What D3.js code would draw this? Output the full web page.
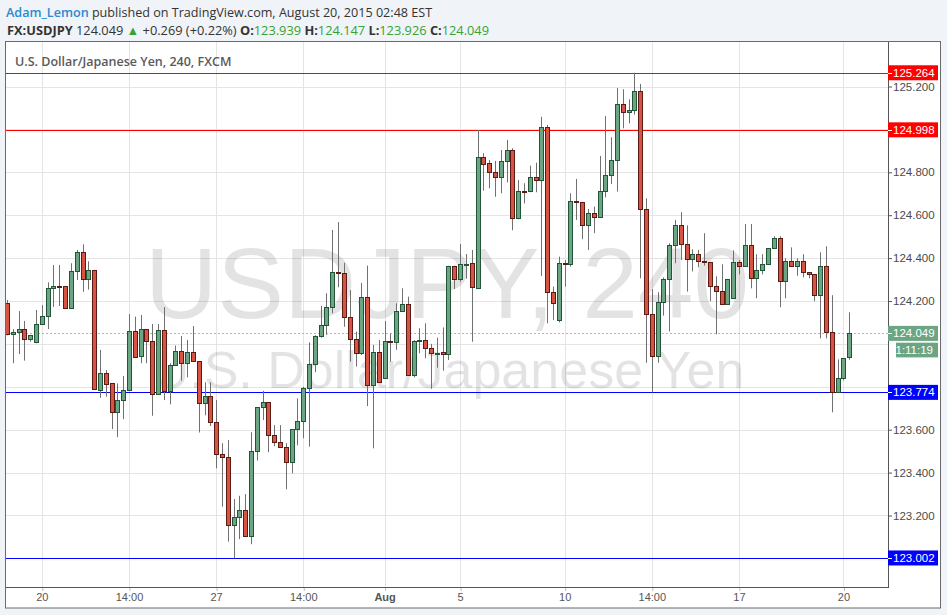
<!DOCTYPE html>
<html><head><meta charset="utf-8">
<script src="https://cdn.jsdelivr.net/npm/d3@7"></script>
<style>html,body{margin:0;padding:0;background:#f0f3f7;} svg{display:block}</style>
</head><body>
<svg id="c" width="947" height="615"></svg>
<script>
// ---- DATA (4h candles, USD/JPY) ----
const openP = [124.189,124.045,124.054,124.068,124.021,124.007,124.091,124.129,124.259,124.269,
124.269,124.166,124.338,124.427,124.301,124.343,123.788,123.866,123.816,123.681,
123.737,123.784,124.059,123.940,124.068,124.012,123.765,124.063,123.779,123.900,
123.966,123.910,123.961,123.919,123.723,123.756,123.635,123.485,123.471,123.154,
123.192,123.224,123.103,123.499,123.704,123.728,123.574,123.541,123.518,123.448,
123.602,123.639,123.793,123.905,124.035,124.087,124.173,124.334,124.329,124.124,
124.021,123.956,124.217,123.807,123.961,123.840,124.013,124.007,124.152,124.185,
123.854,124.015,124.017,123.980,123.956,123.961,123.952,124.362,124.301,124.372,
124.376,124.264,124.873,124.842,124.800,124.777,124.851,124.903,124.586,124.712,
124.711,124.777,124.763,125.010,124.241,124.110,124.376,124.371,124.665,124.660,
124.551,124.609,124.590,124.711,124.786,124.857,125.117,125.080,125.089,125.178,
124.628,124.138,123.942,124.194,124.301,124.460,124.553,124.464,124.394,124.418,
124.385,124.380,124.269,124.245,124.185,124.213,124.380,124.362,124.460,124.306,
124.343,124.371,124.446,124.492,124.292,124.385,124.362,124.385,124.334,124.324,
124.227,124.362,124.054,123.774,123.840,123.939];
const highP = [124.205,124.069,124.153,124.107,124.042,124.158,124.181,124.287,124.368,124.368,
124.270,124.376,124.438,124.464,124.385,124.345,123.972,123.878,123.818,123.816,
123.850,124.139,124.127,124.135,124.069,124.093,124.093,124.171,123.910,123.992,
124.037,124.018,124.083,123.920,123.821,123.821,123.738,123.537,123.552,123.277,
123.292,123.300,123.588,123.704,123.781,123.728,123.621,123.621,123.537,123.602,
123.746,123.800,124.007,124.040,124.177,124.236,124.531,124.568,124.378,124.251,
124.057,124.284,124.365,123.995,124.018,124.107,124.049,124.189,124.259,124.220,
124.018,124.073,124.096,124.000,124.029,124.077,124.364,124.364,124.466,124.419,
124.438,124.997,124.889,124.857,124.853,124.904,124.951,124.912,124.764,124.749,
124.831,124.845,125.059,125.021,124.267,124.407,124.391,124.702,124.769,124.662,
124.629,124.640,124.876,125.062,124.963,125.193,125.187,125.140,125.264,125.212,
124.679,124.255,124.241,124.310,124.469,124.578,124.614,124.553,124.441,124.438,
124.516,124.380,124.315,124.371,124.303,124.436,124.390,124.559,124.559,124.418,
124.418,124.446,124.502,124.502,124.399,124.450,124.399,124.418,124.334,124.324,
124.427,124.455,124.227,123.928,123.933,124.147];
const lowP = [124.040,123.910,123.953,123.922,124.010,124.003,124.091,124.069,124.172,124.177,
124.166,124.166,124.298,124.243,124.253,123.786,123.749,123.754,123.603,123.565,
123.649,123.784,123.940,123.910,123.910,123.665,123.765,123.738,123.718,123.900,
123.829,123.844,123.919,123.587,123.667,123.617,123.420,123.241,123.078,123.000,
123.090,123.103,123.066,123.456,123.645,123.495,123.523,123.518,123.322,123.397,
123.527,123.560,123.521,123.868,124.029,124.042,124.143,124.264,124.080,123.917,
123.894,123.948,123.710,123.513,123.821,123.840,123.917,123.972,124.152,123.854,
123.844,123.956,123.933,123.791,123.889,123.875,123.925,124.256,124.290,124.304,
124.010,124.255,124.714,124.725,124.686,124.702,124.753,124.530,124.581,124.655,
124.707,124.707,124.317,124.096,124.111,124.100,124.267,124.360,124.578,124.488,
124.438,124.516,124.590,124.683,124.745,124.710,125.005,125.028,125.069,124.306,
123.912,123.774,123.912,124.132,124.058,124.376,124.391,124.244,124.338,124.357,
124.365,124.199,124.045,124.185,124.185,124.213,124.324,124.362,124.259,124.213,
124.324,124.371,124.446,124.171,124.213,124.362,124.318,124.310,124.306,124.199,
124.026,124.026,123.681,123.774,123.830,123.926];
const closeP = [124.046,124.054,124.068,124.021,124.040,124.091,124.129,124.259,124.269,124.268,
124.166,124.338,124.427,124.301,124.343,123.788,123.866,123.816,123.681,123.737,
123.784,124.059,123.940,124.068,124.012,123.765,124.063,123.779,123.900,123.966,
123.910,123.961,123.919,123.723,123.756,123.635,123.485,123.471,123.154,123.192,
123.224,123.103,123.499,123.704,123.728,123.574,123.541,123.518,123.448,123.602,
123.639,123.793,123.905,124.035,124.087,124.173,124.335,124.331,124.124,124.021,
123.956,124.217,123.807,123.961,123.821,124.012,124.010,124.152,124.185,123.854,
124.012,124.018,123.980,123.956,123.959,123.950,124.362,124.301,124.371,124.374,
124.264,124.873,124.842,124.800,124.777,124.851,124.903,124.586,124.711,124.709,
124.777,124.763,125.010,124.241,124.189,124.376,124.372,124.665,124.662,124.554,
124.609,124.590,124.711,124.786,124.857,125.117,125.080,125.089,125.178,124.628,
124.138,123.942,124.194,124.301,124.460,124.553,124.464,124.394,124.418,124.385,
124.380,124.269,124.245,124.185,124.301,124.380,124.362,124.460,124.306,124.343,
124.371,124.446,124.492,124.292,124.385,124.362,124.385,124.334,124.324,124.227,
124.362,124.054,123.774,123.840,123.933,124.049];

const xTickIdx = [6,21,36,51,65,78,96,111,126,144];
const xTickLabels = ["20","14:00","27","14:00","Aug","5","10","14:00","17","20"];
const yTicks = [123.0,123.2,123.4,123.6,123.8,124.0,124.2,124.4,124.6,124.8,125.0,125.2];
const yTickLabelValues = [123.2,123.4,123.6,124.2,124.4,124.6,124.8,125.2];
const redLevels = [125.264,124.998];
const blueLevels = [123.774,123.002];
const lastPrice = 124.049;
const countdown = "1:11:19";

// ---- DRAW ----
const svg = d3.select("#c");
const P = {l:6, r:888, t:42, b:587};
const x = d3.scaleLinear().domain([0, openP.length-1]).range([7, 849.3]);
const y = d3.scaleLinear().domain([123.0,125.2]).range([558.4,86.5]);
const crisp = v => Math.round(v)+0.5;
const AX = "'Liberation Sans', Arial, sans-serif";
const HF = "'Open Sans', 'Noto Sans', sans-serif";

svg.append("rect").attr("width",947).attr("height",615).attr("fill","#f0f3f7");
svg.append("rect").attr("x",5.5).attr("y",41.5).attr("width",935).attr("height",566.5)
  .attr("fill","#fff").attr("stroke","#6a6a6a");

// header
const h1 = svg.append("text").attr("x",6).attr("y",17).attr("font-family",HF).attr("font-size",12.6).attr("fill","#333");
h1.append("tspan").attr("fill","#2a8ad2").attr("font-weight",600).text("Adam_Lemon");
h1.append("tspan").text(" published on TradingView.com, August 20, 2015 02:48 EST");
const h2 = svg.append("text").attr("x",7).attr("y",34.5).attr("font-family",HF).attr("font-size",12.8).attr("fill","#333");
const G = "#36a336";
h2.append("tspan").attr("font-weight",700).text("FX:USDJPY");
h2.append("tspan").text(" 124.049 ");
h2.append("tspan").attr("fill",G).text("▲");
h2.append("tspan").text(" +0.269 (+0.22%) ");
[["O:","123.939"],["H:","124.147"],["L:","123.926"],["C:","124.049"]].forEach((d,i)=>{
  h2.append("tspan").attr("font-weight",700).text((i?" ":"")+d[0]);
  h2.append("tspan").attr("fill",G).text(d[1]);
});

const defs = svg.append("defs");
defs.append("clipPath").attr("id","pc").append("rect")
  .attr("x",P.l).attr("y",P.t).attr("width",P.r-P.l).attr("height",P.b-P.t);
const g = svg.append("g").attr("clip-path","url(#pc)");

// grid
g.selectAll("line.hg").data(yTicks).join("line").attr("class","hg")
  .attr("x1",P.l).attr("x2",P.r).attr("y1",d=>crisp(y(d))).attr("y2",d=>crisp(y(d)))
  .attr("stroke","#e4e4e4");
g.selectAll("line.vg").data(xTickIdx).join("line").attr("class","vg")
  .attr("x1",d=>crisp(x(d))).attr("x2",d=>crisp(x(d))).attr("y1",P.t).attr("y2",P.b)
  .attr("stroke","#e4e4e4");

// watermark
g.append("text").attr("x",447).attr("y",318).attr("text-anchor","middle")
  .attr("font-family",AX).attr("font-size",100).attr("fill","rgba(0,0,0,0.11)").text("USDJPY, 240");
g.append("text").attr("x",448).attr("y",388).attr("text-anchor","middle")
  .attr("font-family",AX).attr("font-size",52).attr("fill","rgba(0,0,0,0.11)").text("U.S. Dollar/Japanese Yen");

// title
svg.append("text").attr("x",15).attr("y",65.5).attr("font-family",HF).attr("font-size",12.5)
  .attr("font-weight",600).attr("fill","#5a5a5a").text("U.S. Dollar/Japanese Yen, 240, FXCM");

// level lines
const levels = redLevels.map(v=>({v,c:"#ff0000"})).concat(blueLevels.map(v=>({v,c:"#0000ff"})));
g.selectAll("line.lv").data(levels).join("line").attr("class","lv")
  .attr("x1",P.l).attr("x2",P.r).attr("y1",d=>crisp(y(d.v))).attr("y2",d=>crisp(y(d.v)))
  .attr("stroke",d=>d.c);
g.append("line").attr("x1",P.l).attr("x2",P.r).attr("y1",crisp(y(lastPrice))).attr("y2",crisp(y(lastPrice)))
  .attr("stroke","#a9bcb2").attr("stroke-dasharray","2,2");

// candles
const idx = d3.range(openP.length);
const up = i => closeP[i] >= openP[i];
g.selectAll("line.wk").data(idx).join("line").attr("class","wk")
  .attr("x1",i=>Math.round(x(i))+0.5).attr("x2",i=>Math.round(x(i))+0.5)
  .attr("y1",i=>y(highP[i])).attr("y2",i=>y(lowP[i])).attr("stroke","#707070");
g.selectAll("rect.bd").data(idx).join("rect").attr("class","bd")
  .attr("x",i=>Math.round(x(i))-1.5).attr("width",4)
  .attr("y",i=>Math.round(y(Math.max(openP[i],closeP[i])))+0.5)
  .attr("height",i=>Math.max(1,Math.round(Math.abs(y(openP[i])-y(closeP[i])))))
  .attr("fill",i=>up(i)?"#6ba583":"#d75442")
  .attr("stroke",i=>up(i)?"#225437":"#5b1a13");

// axes (labels hidden where the coloured price tags cover them)
const ya = d3.axisRight(y).tickValues(yTickLabelValues).tickSize(4).tickPadding(1)
  .tickFormat(d3.format(".3f"));
const yg = svg.append("g").attr("transform",`translate(${P.r},0)`).call(ya);
yg.select(".domain").remove();
yg.selectAll("line").attr("stroke","#555");
yg.selectAll("text").attr("font-family",AX).attr("font-size",11.5).attr("fill","#4a4a4a");

const xa = d3.axisBottom(x).tickValues(xTickIdx).tickFormat((d,i)=>xTickLabels[i]).tickSize(4).tickPadding(2);
const xg = svg.append("g").attr("transform",`translate(0,${P.b})`).call(xa);
xg.select(".domain").remove();
xg.selectAll("line").attr("stroke","#bbb").attr("transform","translate(0.5,0)");
xg.selectAll("text").attr("font-family",AX).attr("font-size",11).attr("fill","#555")
  .attr("font-weight",(d,i)=>xTickLabels[i]==="Aug"?700:400);

// borders
svg.append("line").attr("x1",P.r+0.5).attr("x2",P.r+0.5).attr("y1",P.t).attr("y2",P.b+1).attr("stroke","#555");
svg.append("line").attr("x1",P.l).attr("x2",P.r+1).attr("y1",P.b+0.5).attr("y2",P.b+0.5).attr("stroke","#555");

// price labels
function priceLabel(v, color, txt){
  const yy = y(v);
  const lg = svg.append("g");
  lg.append("rect").attr("x",P.r).attr("y",yy-7.5).attr("width",50).attr("height",15).attr("fill",color);
  lg.append("line").attr("x1",P.r).attr("x2",P.r+4).attr("y1",crisp(yy)).attr("y2",crisp(yy)).attr("stroke","#fff");
  lg.append("text").attr("x",P.r+5).attr("y",yy).attr("dy","0.35em").attr("font-family",AX)
    .attr("font-size",11.5).attr("fill","#fff").text(txt);
}
levels.forEach(d=>priceLabel(d.v,d.c,d3.format(".3f")(d.v)));
priceLabel(lastPrice,"#6ba583",d3.format(".3f")(lastPrice));
svg.append("rect").attr("x",896).attr("y",y(lastPrice)+9.3).attr("width",42).attr("height",14.7).attr("fill","#6ba583");
svg.append("text").attr("x",933).attr("y",y(lastPrice)+16.7).attr("dy","0.35em").attr("text-anchor","end")
  .attr("font-family",AX).attr("font-size",11.5).attr("fill","#fff").text(countdown);
</script>
</body></html>
